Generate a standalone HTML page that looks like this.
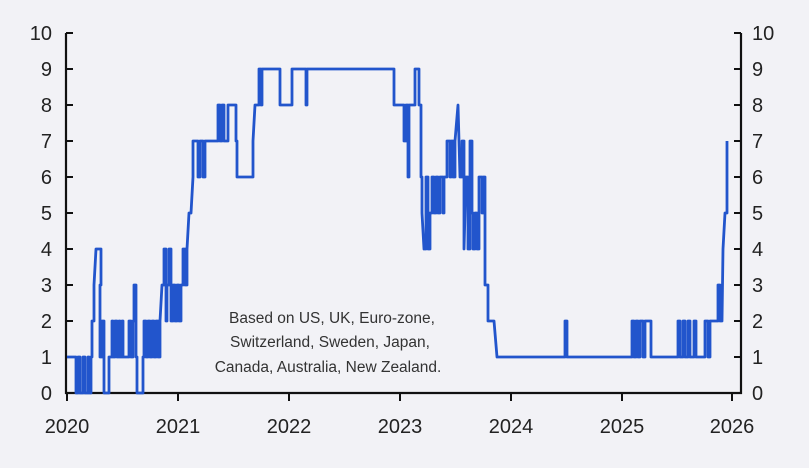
<!DOCTYPE html>
<html><head><meta charset="utf-8"><style>
html,body{margin:0;padding:0;background:#f2f2f6;}
svg{display:block;font-family:"Liberation Sans",sans-serif;}
</style></head><body>
<svg width="809" height="468" viewBox="0 0 809 468">
<rect width="809" height="468" fill="#f2f2f6"/>
<g stroke="#111" stroke-width="2.2" fill="none">
<line x1="66" y1="33" x2="66" y2="394"/>
<line x1="741" y1="33" x2="741" y2="394"/>
<line x1="65" y1="393" x2="742" y2="393"/>
</g>
<g stroke="#111" stroke-width="2">
<line x1="66" y1="33" x2="73" y2="33"/><line x1="66" y1="69" x2="73" y2="69"/><line x1="66" y1="105" x2="73" y2="105"/><line x1="66" y1="141" x2="73" y2="141"/><line x1="66" y1="177" x2="73" y2="177"/><line x1="66" y1="213" x2="73" y2="213"/><line x1="66" y1="249" x2="73" y2="249"/><line x1="66" y1="285" x2="73" y2="285"/><line x1="66" y1="321" x2="73" y2="321"/><line x1="66" y1="357" x2="73" y2="357"/>
<line x1="734" y1="33" x2="741" y2="33"/><line x1="734" y1="69" x2="741" y2="69"/><line x1="734" y1="105" x2="741" y2="105"/><line x1="734" y1="141" x2="741" y2="141"/><line x1="734" y1="177" x2="741" y2="177"/><line x1="734" y1="213" x2="741" y2="213"/><line x1="734" y1="249" x2="741" y2="249"/><line x1="734" y1="285" x2="741" y2="285"/><line x1="734" y1="321" x2="741" y2="321"/><line x1="734" y1="357" x2="741" y2="357"/>
<line x1="67" y1="393" x2="67" y2="401"/><line x1="178" y1="393" x2="178" y2="401"/><line x1="289" y1="393" x2="289" y2="401"/><line x1="400" y1="393" x2="400" y2="401"/><line x1="511" y1="393" x2="511" y2="401"/><line x1="622" y1="393" x2="622" y2="401"/><line x1="732" y1="393" x2="732" y2="401"/>
</g>
<g font-size="20" fill="#222" text-anchor="end">
<text x="52" y="40">10</text><text x="52" y="76">9</text><text x="52" y="112">8</text><text x="52" y="148">7</text><text x="52" y="184">6</text><text x="52" y="220">5</text><text x="52" y="256">4</text><text x="52" y="292">3</text><text x="52" y="328">2</text><text x="52" y="364">1</text><text x="52" y="400">0</text>
</g>
<g font-size="20" fill="#222" text-anchor="start">
<text x="752" y="40">10</text><text x="752" y="76">9</text><text x="752" y="112">8</text><text x="752" y="148">7</text><text x="752" y="184">6</text><text x="752" y="220">5</text><text x="752" y="256">4</text><text x="752" y="292">3</text><text x="752" y="328">2</text><text x="752" y="364">1</text><text x="752" y="400">0</text>
</g>
<g font-size="20" fill="#222" text-anchor="middle">
<text x="67" y="433">2020</text><text x="178" y="433">2021</text><text x="289" y="433">2022</text><text x="400" y="433">2023</text><text x="511" y="433">2024</text><text x="622" y="433">2025</text><text x="732" y="433">2026</text>
</g>
<g font-size="15.5" fill="#333" text-anchor="middle">
<text x="332" y="323">Based on US, UK,  Euro-zone,</text>
<text x="330" y="347">Switzerland, Sweden, Japan,</text>
<text x="328" y="372">Canada, Australia, New Zealand.</text>
</g>
<path fill="none" stroke="#2255cc" stroke-width="2.8" stroke-linejoin="round"
d="M67 357 H76 V393 H78 V357 H80 V393 H83 V357 H85 V393 H88 V357 H89 V393 H91 V357 H92 V321 H94 V285 L96 249 H101 V285 H100 V357 H102 V321 H104 V393 H109 V357 H112 V321 H113 V357 H115 V321 H117 V357 H119 V321 H120 V357 H122 V321 H123 V357 H127 V357 H129 V321 H131 V357 H133 V321 H134 V285 H136 V357 H137 V393 H143 V357 H144 V321 H146 V357 H148 V321 H150 V357 H152 V321 H154 V357 H156 V321 H158 V357 H160 V321 L162 285 H164 V249 H166 V321 H167 V285 H169 V249 H171 V321 H173 V285 H175 V321 H177 V285 H179 V321 H181 V285 H183 V249 H185 V285 H187 V249 L189 213 H191 L193 177 V141 H198 V177 H200 V141 H203 V177 H205 V141 H218 V105 H220 V141 H222 V105 H224 V141 H228 V105 H236 V141 H237 V177 H253 V141 L255 105 H259 V69 H261 V105 H262 V69 H267 V69 H280 V105 H292 V69 H306 V105 H307 V69 H394 V105 H404 V141 H406 V105 H408 V177 H409 V105 H415 V69 H419 V105 H421 V177 H422 V213 L424 249 H426 V177 H428 V249 H430 V213 H432 V177 H434 V213 H436 V177 H438 V213 H440 V177 H443 V213 H444 V177 H447 V141 H450 V177 H451 V141 H453 V177 H455 V141 L458 105 L460 177 H462 V141 H464 V249 L466 177 H468 V249 H470 V141 H472 V213 H473 V249 H475 V213 H477 V249 H479 V177 H482 V213 H483 V177 H485 V285 H488 V321 H494 V321 L497 357 H565 V321 H567 V357 H632 V321 H634 V357 H636 V321 H638 V357 H640 V321 H643 V357 H645 V321 H651 V357 H678 V321 H680 V357 H683 V321 H685 V357 H688 V321 H690 V357 H694 V321 H696 V357 H705 V321 H708 V357 H710 V321 H718 V285 H720 V321 H722 L723 249 L725 213 H727 V141"/>
</svg>
</body></html>
